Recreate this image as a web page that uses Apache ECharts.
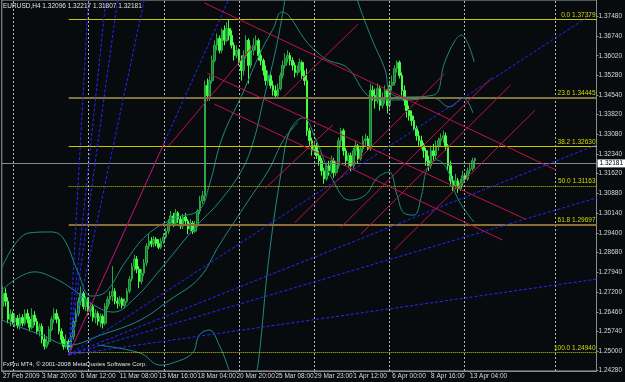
<!DOCTYPE html>
<html>
<head>
<meta charset="utf-8">
<script src="https://cdn.jsdelivr.net/npm/echarts@6/dist/echarts.min.js"></script>
<style>
html, body { margin: 0; padding: 0; background: #080b0d; }
#chart { width: 625px; height: 382px; }
</style>
</head>
<body>
<div id="chart"></div>
<script>
// time axis: bar index -> label
var timeTicks = [0, 16, 32, 48, 64, 80, 96, 112, 128, 144, 160, 176, 192];
var timeLabels = ['27 Feb 2009', '3 Mar 20:00', '6 Mar 12:00', '11 Mar 08:00', '13 Mar 16:00', '18 Mar 04:00',
    '20 Mar 20:00', '25 Mar 08:00', '29 Mar 23:00', '1 Apr 12:00', '6 Apr 00:00', '8 Apr 16:00', '13 Apr 04:00'];
var priceTicks = [1.37480, 1.36740, 1.36020, 1.35280, 1.34540, 1.33820, 1.33080, 1.32340, 1.31620, 1.30880,
    1.30140, 1.29400, 1.28680, 1.27940, 1.27200, 1.26460, 1.25740, 1.25000, 1.24280];
var gridBars = [4.4, 35.2, 66.1, 97.0, 127.9, 158.7, 189.6, 227.0];

// EURUSD H4 candles
var opens = [1.2666,1.2715,1.2685,1.2618,1.2637,1.2610,1.2622,1.2595,1.2625,1.2603,1.2640,1.2618,1.2588,1.2633,1.2610,1.2573,1.2592,1.2543,1.2517,1.2535,
    1.2580,1.2618,1.2640,1.2618,1.2573,1.2543,1.2517,1.2535,1.2505,1.2554,1.2610,1.2640,1.2685,1.2715,1.2666,1.2693,1.2648,1.2666,1.2625,1.2640,
    1.2610,1.2629,1.2603,1.2666,1.2693,1.2704,1.2723,1.2685,1.2678,1.2693,1.2670,1.2685,1.2723,1.2768,1.2816,1.2843,1.2805,1.2760,1.2790,1.2828,
    1.2891,1.2910,1.2899,1.2917,1.2902,1.2887,1.2910,1.2925,1.2947,1.2977,1.3004,1.2977,1.3015,1.2992,1.2966,1.3000,1.2985,1.2955,1.2977,1.2947,
    1.2970,1.3022,1.3060,1.3079,1.3491,1.3453,1.3509,1.3584,1.3641,1.3667,1.3622,1.3697,1.3659,1.3704,1.3678,1.3641,1.3603,1.3622,1.3584,1.3547,
    1.3603,1.3659,1.3566,1.3622,1.3641,1.3659,1.3603,1.3584,1.3547,1.3509,1.3528,1.3491,1.3472,1.3453,1.3479,1.3528,1.3566,1.3592,1.3603,1.3584,
    1.3566,1.3539,1.3547,1.3577,1.3528,1.3509,1.3322,1.3285,1.3247,1.3266,1.3229,1.3210,1.3172,1.3142,1.3191,1.3172,1.3210,1.3165,1.3191,1.3285,
    1.3322,1.3247,1.3210,1.3229,1.3191,1.3247,1.3266,1.3217,1.3255,1.3285,1.3292,1.3255,1.3472,1.3453,1.3434,1.3479,1.3416,1.3442,1.3472,1.3416,
    1.3491,1.3502,1.3554,1.3577,1.3528,1.3472,1.3434,1.3397,1.3378,1.3360,1.3330,1.3303,1.3285,1.3266,1.3247,1.3210,1.3191,1.3247,1.3229,1.3266,
    1.3285,1.3292,1.3303,1.3266,1.3191,1.3135,1.3116,1.3135,1.3105,1.3127,1.3154,1.3142,1.3172,1.3180,1.3210];
var closes = [1.2715,1.2685,1.2618,1.2637,1.2610,1.2622,1.2595,1.2625,1.2603,1.2640,1.2618,1.2588,1.2633,1.2610,1.2573,1.2592,1.2543,1.2517,1.2535,1.2580,
    1.2618,1.2640,1.2618,1.2573,1.2543,1.2517,1.2535,1.2505,1.2554,1.2610,1.2640,1.2685,1.2715,1.2666,1.2693,1.2648,1.2666,1.2625,1.2640,1.2610,
    1.2629,1.2603,1.2666,1.2693,1.2704,1.2723,1.2685,1.2678,1.2693,1.2670,1.2685,1.2723,1.2768,1.2816,1.2843,1.2805,1.2760,1.2790,1.2828,1.2891,
    1.2910,1.2899,1.2917,1.2902,1.2887,1.2910,1.2925,1.2947,1.2977,1.3004,1.2977,1.3015,1.2992,1.2966,1.3000,1.2985,1.2955,1.2977,1.2947,1.2970,
    1.3022,1.3060,1.3079,1.3491,1.3453,1.3509,1.3584,1.3641,1.3667,1.3622,1.3697,1.3659,1.3704,1.3678,1.3641,1.3603,1.3622,1.3584,1.3547,1.3603,
    1.3659,1.3566,1.3622,1.3641,1.3659,1.3603,1.3584,1.3547,1.3509,1.3528,1.3491,1.3472,1.3453,1.3479,1.3528,1.3566,1.3592,1.3603,1.3584,1.3566,
    1.3539,1.3547,1.3577,1.3528,1.3509,1.3322,1.3285,1.3247,1.3266,1.3229,1.3210,1.3172,1.3142,1.3191,1.3172,1.3210,1.3165,1.3191,1.3285,1.3322,
    1.3247,1.3210,1.3229,1.3191,1.3247,1.3266,1.3217,1.3255,1.3285,1.3292,1.3255,1.3472,1.3453,1.3434,1.3479,1.3416,1.3442,1.3472,1.3416,1.3491,
    1.3502,1.3554,1.3577,1.3528,1.3472,1.3434,1.3397,1.3378,1.3360,1.3330,1.3303,1.3285,1.3266,1.3247,1.3210,1.3191,1.3247,1.3229,1.3266,1.3285,
    1.3292,1.3303,1.3266,1.3191,1.3135,1.3116,1.3135,1.3105,1.3127,1.3154,1.3142,1.3172,1.3180,1.3210,1.3218];
var lows = [1.2618,1.2666,1.2603,1.2592,1.2599,1.2588,1.2584,1.2580,1.2592,1.2595,1.2603,1.2573,1.2580,1.2595,1.2562,1.2554,1.2528,1.2505,1.2509,1.2524,
    1.2573,1.2603,1.2603,1.2562,1.2528,1.2505,1.2509,1.2494,1.2498,1.2543,1.2592,1.2629,1.2670,1.2655,1.2648,1.2633,1.2629,1.2610,1.2603,1.2595,
    1.2588,1.2584,1.2595,1.2655,1.2674,1.2685,1.2674,1.2659,1.2666,1.2659,1.2659,1.2678,1.2715,1.2760,1.2798,1.2790,1.2734,1.2749,1.2779,1.2816,
    1.2880,1.2887,1.2887,1.2891,1.2880,1.2880,1.2899,1.2917,1.2936,1.2966,1.2962,1.2966,1.2977,1.2955,1.2955,1.2970,1.2936,1.2947,1.2936,1.2940,
    1.2962,1.3011,1.3048,1.3060,1.3434,1.3434,1.3498,1.3577,1.3622,1.3611,1.3611,1.3641,1.3652,1.3659,1.3629,1.3584,1.3592,1.3566,1.3509,1.3528,
    1.3592,1.3498,1.3554,1.3603,1.3622,1.3584,1.3566,1.3528,1.3491,1.3498,1.3479,1.3453,1.3446,1.3446,1.3472,1.3517,1.3554,1.3577,1.3566,1.3547,
    1.3521,1.3528,1.3539,1.3517,1.3491,1.3303,1.3266,1.3229,1.3236,1.3217,1.3191,1.3154,1.3124,1.3135,1.3154,1.3161,1.3146,1.3154,1.3180,1.3266,
    1.3229,1.3191,1.3184,1.3172,1.3180,1.3229,1.3199,1.3210,1.3240,1.3266,1.3247,1.3247,1.3434,1.3405,1.3423,1.3397,1.3405,1.3423,1.3386,1.3405,
    1.3472,1.3491,1.3539,1.3517,1.3453,1.3416,1.3371,1.3360,1.3341,1.3322,1.3285,1.3266,1.3255,1.3221,1.3191,1.3172,1.3180,1.3210,1.3217,1.3247,
    1.3266,1.3277,1.3247,1.3172,1.3116,1.3097,1.3105,1.3090,1.3097,1.3116,1.3127,1.3135,1.3161,1.3172,1.3181];
var highs = [1.2741,1.2734,1.2700,1.2655,1.2648,1.2640,1.2633,1.2640,1.2637,1.2655,1.2655,1.2629,1.2659,1.2648,1.2622,1.2603,1.2603,1.2562,1.2554,1.2592,
    1.2629,1.2659,1.2655,1.2629,1.2584,1.2554,1.2562,1.2543,1.2562,1.2618,1.2655,1.2700,1.2741,1.2723,1.2704,1.2700,1.2678,1.2674,1.2655,1.2648,
    1.2640,1.2637,1.2678,1.2704,1.2723,1.2816,1.2734,1.2700,1.2704,1.2700,1.2696,1.2734,1.2779,1.2828,1.2858,1.2854,1.2816,1.2805,1.2843,1.2902,
    1.2936,1.2925,1.2929,1.2925,1.2917,1.2921,1.2940,1.2959,1.2992,1.3022,1.3015,1.3030,1.3022,1.3004,1.3011,1.3015,1.2992,1.2992,1.2985,1.2985,
    1.3030,1.3079,1.3097,1.3509,1.3517,1.3528,1.3603,1.3659,1.3685,1.3678,1.3704,1.3715,1.3727,1.3738,1.3697,1.3652,1.3641,1.3629,1.3603,1.3622,
    1.3678,1.3667,1.3641,1.3667,1.3678,1.3667,1.3622,1.3592,1.3566,1.3547,1.3539,1.3509,1.3491,1.3498,1.3539,1.3584,1.3611,1.3622,1.3614,1.3596,
    1.3577,1.3566,1.3592,1.3584,1.3547,1.3554,1.3333,1.3296,1.3285,1.3277,1.3247,1.3221,1.3184,1.3202,1.3210,1.3229,1.3221,1.3210,1.3296,1.3333,
    1.3330,1.3258,1.3240,1.3240,1.3258,1.3285,1.3273,1.3266,1.3303,1.3311,1.3303,1.3498,1.3491,1.3479,1.3498,1.3491,1.3464,1.3491,1.3479,1.3509,
    1.3528,1.3566,1.3584,1.3584,1.3539,1.3491,1.3446,1.3416,1.3397,1.3378,1.3341,1.3322,1.3303,1.3277,1.3258,1.3229,1.3266,1.3273,1.3285,1.3296,
    1.3311,1.3322,1.3315,1.3273,1.3210,1.3154,1.3161,1.3146,1.3142,1.3172,1.3165,1.3184,1.3199,1.3221,1.3222];

// indicator curves (bar, price)
var bandA = [[-0.5,1.2810],[10.5,1.2940],[19.8,1.2944],[24.7,1.2922],[30.8,1.2795],[36.1,1.2705],[42.2,1.2720],[50.3,1.2832],
    [59.2,1.2933],[70.6,1.2996],[80.7,1.3026],[84.8,1.3119],[90.1,1.3295],[98.2,1.3455],[106.3,1.3623],[111.2,1.3705],
    [114.5,1.3765],[117.3,1.3754],[124.2,1.3661],[129.5,1.3612],[133.5,1.3586],[141.7,1.3556],[149.8,1.3455],[156.7,1.3437],
    [166.0,1.3437],[177.0,1.3444],[183.5,1.3411],[189.2,1.3444],[193.2,1.3388]];
var bandB = [[-0.5,1.2727],[12.9,1.2795],[21.0,1.2772],[29.2,1.2727],[37.3,1.2671],[45.4,1.2645],[54.3,1.2698],[64.5,1.2802],
    [74.6,1.2914],[80.7,1.2978],[88.9,1.3056],[98.2,1.3175],[103.1,1.3287],[107.1,1.3437],[111.2,1.3586],[114.5,1.3735],
    [116.5,1.3847]];
var bandE = [[142.5,1.3922],[145.7,1.3810],[151.8,1.3661],[157.1,1.3549],[159.1,1.3467],[164.0,1.3448],[177.0,1.3455],
    [181.5,1.3575],[185.5,1.3653],[188.4,1.3679],[191.2,1.3646],[193.7,1.3579]];
var bandC = [[-0.5,1.2615],[15.8,1.2559],[27.1,1.2522],[40.1,1.2559],[56.4,1.2615],[68.5,1.2690],[80.7,1.2772],[88.9,1.2895],
    [101.0,1.3063],[109.2,1.3175],[115.3,1.3287],[121.4,1.3355]];
var bandD1 = [[38.9,1.2522],[56.4,1.2492],[64.5,1.2447],[69.8,1.2455],[77.9,1.2492],[80.7,1.2559],[84.8,1.2578],[88.9,1.2522],
    [92.9,1.2429],[94.6,1.2373]];
var bandD2 = [[103.1,1.2373],[105.1,1.2466],[109.2,1.2839],[114.5,1.3175],[118.1,1.3325],[123.4,1.3370],[128.7,1.3287],
    [135.6,1.3138],[142.5,1.3063],[149.0,1.3082],[153.9,1.3146],[158.7,1.3168],[162.0,1.3082],[164.8,1.3015],[168.9,1.3007],
    [172.1,1.3082],[174.2,1.3175],[178.2,1.3213],[182.3,1.3183],[186.3,1.3082],[190.4,1.3019],[193.7,1.2981]];

// Fibonacci retracement
var fibLevels = ['0.0', '23.6', '38.2', '50.0', '61.8', '100.0'];
var fibPrices = [1.37379, 1.34445, 1.32630, 1.31163, 1.29697, 1.24940];
var fibStart = 27;
var lastPrice = 1.32181;

// Gann fan (bar, price)
var fanOrigin = [27, 1.2485];
var fanEnds = [[35.1, 1.3810], [42.3, 1.3810], [47.1, 1.3810], [58.1, 1.3810], [92.7, 1.3810],
    [244, 1.3768], [244, 1.3269], [244, 1.3071], [244, 1.2768]];

// crimson grid segments (bar, price)
var gridSegs = [
    [[82.8, 1.3799], [227.4, 1.3175]],
    [[84.0, 1.3537], [214.8, 1.2992]],
    [[86.8, 1.3422], [205.4, 1.2914]],
    [[27, 1.2485], [66.2, 1.3275]],
    [[68.1, 1.3265], [103.1, 1.3642]],
    [[115.3, 1.3448], [146.0, 1.3720]],
    [[107.8, 1.3107], [135.6, 1.3344]],
    [[120.0, 1.2979], [181.5, 1.3534]],
    [[138.9, 1.2961], [200.9, 1.3519]],
    [[147.1, 1.2936], [208.7, 1.3493]],
    [[160.9, 1.2877], [218.8, 1.3399]]
];

var FONT = 'Liberation Sans';
var candles = closes.map(function (c, i) {
    return [i, opens[i], c, lows[i], highs[i]];
});

var fibColors = ['#c8c800', '#7e7442', '#c8c800', '#c8c800', '#8a6e36', '#c8c800'];
var fibTypes = ['solid', 'solid', 'solid', 'dotted', 'solid', 'dotted'];
var fibWidths = [1, 2, 1, 1, 2, 1];
var fibLines = fibPrices.map(function (p, i) {
    return [
        { coord: [fibStart, p], lineStyle: { color: fibColors[i], type: fibTypes[i], width: fibWidths[i] },
          label: { show: true, position: 'insideEndTop', formatter: fibLevels[i] + ' ' + p.toFixed(5),
                   color: '#d8d800', fontSize: 6.5, fontFamily: FONT, distance: 1 } },
        { coord: [244, p] }
    ];
});

function band(data) {
    return {
        type: 'line', data: data, smooth: 0.4, symbol: 'none', silent: true, z: 4,
        lineStyle: { color: '#1f8a80', width: 1 }
    };
}

var chart = echarts.init(document.getElementById('chart'));
var option = {
    backgroundColor: '#080b0d',
    animation: false,
    grid: {
        left: 0, top: 0, width: 602, height: 371,
        show: true, borderColor: '#a0a0a0', borderWidth: 1
    },
    xAxis: {
        type: 'value', min: -0.5, max: 244,
        splitLine: { show: false },
        axisLine: { show: true, onZero: false, lineStyle: { color: '#8c8c8c' } },
        axisTick: { show: true, customValues: timeTicks, length: 2, lineStyle: { color: '#8c8c8c' } },
        axisLabel: {
            customValues: timeTicks, color: '#d8d8d8', fontSize: 6.5, fontFamily: FONT,
            margin: 2, align: 'left', hideOverlap: false,
            formatter: function (v) { return timeLabels[timeTicks.indexOf(Math.round(v))] || ''; }
        }
    },
    yAxis: {
        type: 'value', position: 'right', min: 1.2425, max: 1.3810,
        splitLine: { show: false },
        axisLine: { show: true, onZero: false, lineStyle: { color: '#8c8c8c' } },
        axisTick: { show: true, customValues: priceTicks, length: 2, lineStyle: { color: '#8c8c8c' } },
        axisLabel: {
            customValues: priceTicks, color: '#d8d8d8', fontSize: 6.5, fontFamily: FONT, margin: 2,
            formatter: function (v) { return v.toFixed(5); }
        }
    },
    series: [
        {
            type: 'line', data: [], silent: true, z: 1,
            markLine: {
                silent: true, symbol: 'none', animation: false,
                lineStyle: { color: '#b4b4b4', type: [2, 2], width: 1 },
                label: { show: false },
                data: gridBars.map(function (b) { return { xAxis: b }; })
            }
        },
        {
            type: 'candlestick', z: 3,
            encode: { x: 0, y: [1, 2, 3, 4] },
            data: candles,
            barWidth: 2.2,
            itemStyle: {
                color: '#177a36', color0: '#44ff44',
                borderColor: '#2aa844', borderColor0: '#44ff44', borderWidth: 1
            }
        },
        band(bandA), band(bandB), band(bandE), band(bandC), band(bandD1), band(bandD2),
        {
            type: 'lines', coordinateSystem: 'cartesian2d', z: 5, silent: true,
            lineStyle: { color: '#2626ff', width: 1, type: [3, 2], opacity: 1 },
            data: fanEnds.map(function (e) { return { coords: [fanOrigin, e] }; })
        },
        {
            type: 'lines', coordinateSystem: 'cartesian2d', z: 6, silent: true,
            lineStyle: { color: '#c0104c', width: 1, opacity: 1 },
            data: gridSegs.map(function (s) { return { coords: s }; })
        },
        {
            type: 'line', data: [], silent: true, z: 7,
            markLine: {
                silent: true, symbol: 'none', animation: false,
                data: fibLines
            }
        },
        {
            type: 'line', data: [], silent: true, z: 7,
            markLine: {
                silent: true, symbol: 'none', animation: false,
                lineStyle: { color: '#8a8a8a', type: 'solid', width: 1 },
                label: {
                    show: true, position: 'end', distance: 1, formatter: lastPrice.toFixed(5),
                    color: '#000', backgroundColor: '#ffffff', padding: [1, 2, 0, 2],
                    fontSize: 6.5, fontFamily: FONT
                },
                data: [{ yAxis: lastPrice }]
            }
        }
    ],
    graphic: [
        { type: 'text', left: 3, top: 3, z: 10,
          style: { text: 'EURUSD,H4 1.32096 1.32217 1.31807 1.32181', fill: '#e0e0e0', fontSize: 6.5, fontFamily: FONT } },
        { type: 'text', left: 3, top: 361, z: 10,
          style: { text: 'FxPro MT4, © 2001-2008 MetaQuotes Software Corp.', fill: '#e0e0e0', fontSize: 6, fontFamily: FONT } }
    ]
};
chart.setOption(option);
</script>
</body>
</html>
